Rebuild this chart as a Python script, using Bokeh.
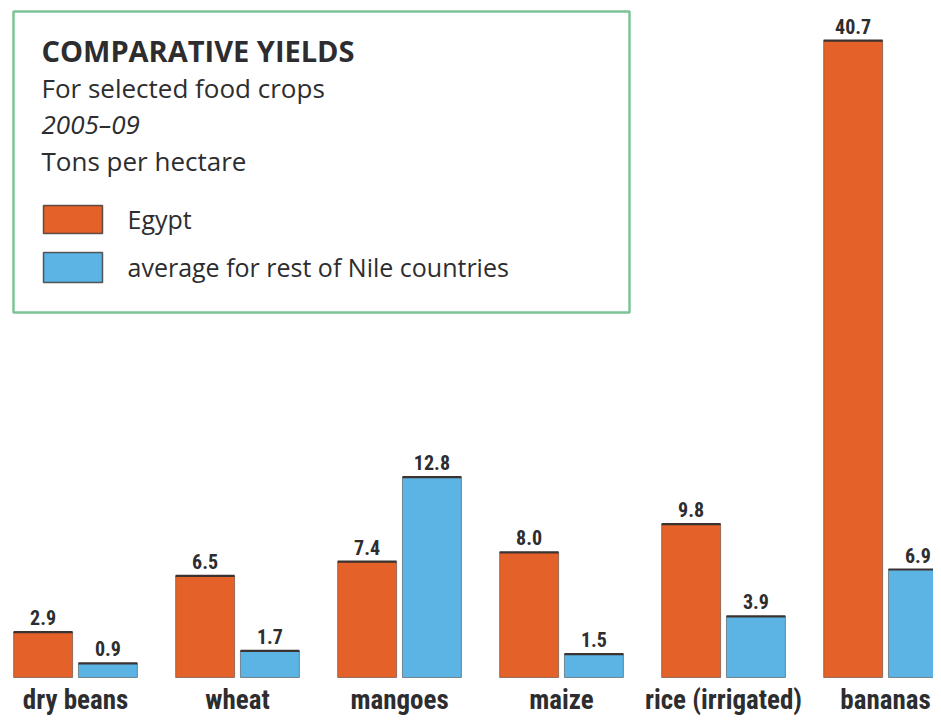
from bokeh.plotting import figure
from bokeh.models import ColumnDataSource, Range1d, Label, BoxAnnotation
from bokeh.core.properties import value
from bokeh.embed import file_html
from bokeh.resources import INLINE

# ---- data ----
crops = ["dry beans", "wheat", "mangoes", "maize", "rice (irrigated)", "bananas"]
egypt = [2.9, 6.5, 7.4, 8.0, 9.8, 40.7]
rest_of_nile = [0.9, 1.7, 12.8, 1.5, 3.9, 6.9]
series_names = ["Egypt", "average for rest of Nile countries"]
title_lines = ["COMPARATIVE YIELDS", "For selected food crops", "2005\u201309", "Tons per hectare"]

ORANGE = "#e4622a"
BLUE = "#5cb4e5"
EDGE = "#3b3330"
TEXT = "#2d2d30"
GREEN = "#7cc495"
NARROW = "Roboto Condensed, Roboto, sans-serif"
SANS = "Open Sans"

W, H = 933, 717
idx = list(range(len(crops)))
off = 0.2
bw = 0.364

src_e = ColumnDataSource(dict(x=[i - off for i in idx], top=egypt,
                              x0=[i - off - bw / 2 for i in idx], x1=[i - off + bw / 2 for i in idx],
                              lbl=[f"{v:.1f}" for v in egypt]))
src_r = ColumnDataSource(dict(x=[i + off for i in idx], top=rest_of_nile,
                              x0=[i + off - bw / 2 for i in idx], x1=[i + off + bw / 2 for i in idx],
                              lbl=[f"{v:.1f}" for v in rest_of_nile]))
src_c = ColumnDataSource(dict(x=idx, y=[0] * len(crops), name=crops))

p = figure(width=W, height=H, output_backend="svg", toolbar_location=None,
           x_range=Range1d(-0.463, 5.296), y_range=Range1d(-2.556, 43.26),
           min_border=0, outline_line_color=None)
p.xaxis.visible = False
p.yaxis.visible = False
p.grid.visible = False
p.background_fill_color = "white"
p.border_fill_color = "white"

for src, col in ((src_e, ORANGE), (src_r, BLUE)):
    p.vbar(x="x", top="top", bottom=0, width=bw, source=src, fill_color=col,
           line_color=EDGE, line_width=1, line_alpha=0.5)
    p.segment(x0="x0", x1="x1", y0="top", y1="top", source=src, line_color=EDGE, line_width=2.2)
    p.text(x="x", y="top", text="lbl", source=src, text_align="center", text_baseline="bottom",
           y_offset=-7, text_font=value(NARROW), text_font_style="bold", text_font_size="20px",
           text_color=TEXT)

p.text(x="x", y="y", text="name", source=src_c, text_align="center", text_baseline="alphabetic",
       y_offset=23, text_font=value(NARROW), text_font_style="bold", text_font_size="27px",
       text_color=TEXT)

# ---- key box (screen units: y measured from bottom of the frame) ----
def sy(ref_y):
    return H - ref_y

def sx(ref_x):
    return ref_x

p.add_layout(BoxAnnotation(left=sx(13), right=sx(629), top=sy(11), bottom=sy(312),
                           left_units="screen", right_units="screen", top_units="screen",
                           bottom_units="screen", fill_alpha=0, line_color=GREEN,
                           line_alpha=1, line_width=2.5))

styles = [("bold", "29px", 50), ("normal", "26px", 87), ("italic", "26px", 123), ("normal", "26px", 160)]
for txt, (st, sz, base) in zip(title_lines, styles):
    p.add_layout(Label(x=sx(41), y=sy(base), x_units="screen", y_units="screen", text=txt,
                       text_font=SANS, text_font_style=st, text_font_size=sz, text_color=TEXT,
                       text_baseline="alphabetic"))

for name, col, top, bot in ((series_names[0], ORANGE, 205, 233), (series_names[1], BLUE, 252, 282)):
    p.add_layout(BoxAnnotation(left=sx(43), right=sx(102), top=sy(top), bottom=sy(bot),
                               left_units="screen", right_units="screen", top_units="screen",
                               bottom_units="screen", fill_color=col, fill_alpha=1,
                               line_color=EDGE, line_width=1.5, line_alpha=0.8))
    p.add_layout(Label(x=sx(127), y=sy((top + bot) / 2 - 1), x_units="screen", y_units="screen",
                       text=name, text_font=SANS, text_font_size="25px", text_color=TEXT,
                       text_baseline="alphabetic"))

open("out.html", "w").write(file_html(p, INLINE))
